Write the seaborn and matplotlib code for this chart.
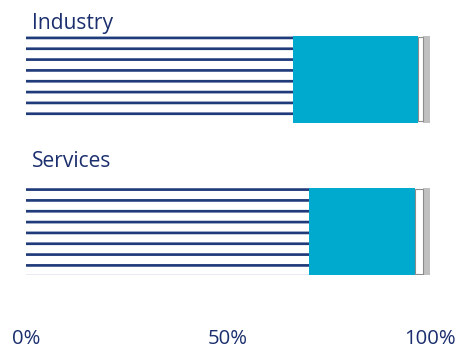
import matplotlib
matplotlib.use("Agg")
import matplotlib.pyplot as plt
import seaborn as sns
import numpy as np
import pandas as pd

# ---- data ----
categories = ["Industry", "Services"]
seg_hatched = [66.1, 70.1]
seg_cyan = [30.9, 26.0]
seg_white = [1.2, 2.1]
seg_gray = [1.8, 1.8]
tick_values = [0, 50, 100]
tick_labels = ["0%", "50%", "100%"]

DPI = 65
W, H = 461, 349
PT = 72 / DPI  # points per pixel

sns.set_theme(style="white")
plt.rcParams['font.family'] = ['Open Sans', 'DejaVu Sans']
plt.rcParams['hatch.linewidth'] = 2.7 * PT
plt.rcParams['hatch.color'] = '#203b7a'

NAVY = '#1b2f6e'
HATCH = '#203b7a'
CYAN = '#00a9ce'
GRAY = '#c0c0c0'
BORDER = '#8c8c8c'

fig = plt.figure(figsize=((W + 0.3) / DPI, (H + 0.3) / DPI), dpi=DPI)
top_px, bot_px = 36, 275
ax = fig.add_axes([26 / W, 1 - bot_px / H, 404 / W, (bot_px - top_px) / H])

c1 = np.array(seg_hatched)
c2 = c1 + np.array(seg_cyan)
c3 = c2 + np.array(seg_white)
c4 = c3 + np.array(seg_gray)

bw = 87 / 152
layers = [(c4, GRAY), (c3, 'white'), (c2, CYAN)]
for vals, col in layers:
    df = pd.DataFrame({"cat": categories, "val": vals})
    sns.barplot(data=df, x="val", y="cat", orient="h", color=col, saturation=1,
                width=bw, linewidth=0, ax=ax, errorbar=None)
df = pd.DataFrame({"cat": categories, "val": c1})
sns.barplot(data=df, x="val", y="cat", orient="h", color='white', saturation=1,
            width=bw, linewidth=0, edgecolor=HATCH, hatch='-', ax=ax, errorbar=None)
# outline of the white segment
ax.barh(np.arange(len(categories)), seg_white, left=c2, height=bw * 0.97,
        fill=False, edgecolor=BORDER, linewidth=1.1 * PT)

ax.set_xlim(0, 100)
ax.set_ylim(len(categories) - 1 + bw / 2, -bw / 2)
ax.set_xticks(tick_values)
ax.set_xticklabels(tick_labels, color=NAVY, fontsize=20.3 * PT)
ax.tick_params(axis='x', length=0, pad=54 * PT)
ax.set_yticks([])
ax.set_xlabel("")
ax.set_ylabel("")
for s in ax.spines.values():
    s.set_visible(False)

title_base = [29.3, 166.7]
for name, yb in zip(categories, title_base):
    fig.text(32 / W, 1 - yb / H, name, color=NAVY, fontsize=21 * PT,
             ha='left', va='baseline')

fig.savefig("out.png", dpi=DPI)
